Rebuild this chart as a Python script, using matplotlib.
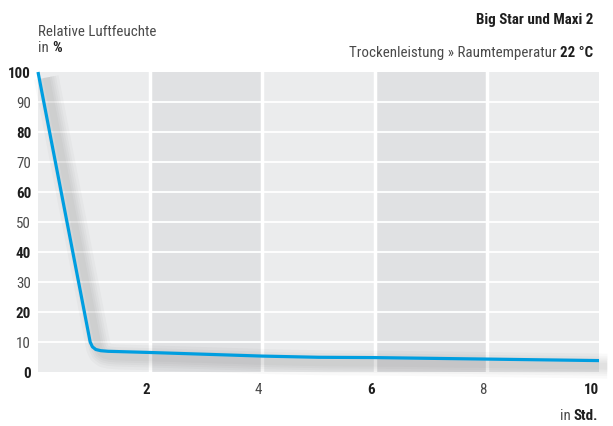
import matplotlib
matplotlib.use("Agg")
import matplotlib.pyplot as plt
import matplotlib.patheffects as pe
from matplotlib import font_manager

# ---------------------------
# data
# ---------------------------
hours = [0, 0.93, 0.97, 1.03, 1.12, 1.25, 2, 3, 4, 5, 6, 8, 10]
humidity = [100, 10, 8.4, 7.5, 7.1, 6.9, 6.5, 5.9, 5.3, 4.9, 4.8, 4.3, 3.8]

x_ticks = [2, 4, 6, 8, 10]
x_bold = [True, False, True, False, True]
y_ticks = [0, 10, 20, 30, 40, 50, 60, 70, 80, 90, 100]
y_bold = [True, False, True, False, True, False, True, False, True, False, True]
bands = [(2, 4), (6, 8)]

title = "Big Star und Maxi 2"
subtitle = "Trockenleistung » Raumtemperatur"
subtitle_bold = "22 °C"
ylabel_1 = "Relative Luftfeuchte"
ylabel_2 = "in"
ylabel_unit = "%"
xlabel = "in"
xlabel_unit = "Std."

# schmale Schrift, falls vorhanden
names = {f.name for f in font_manager.fontManager.ttflist}
family = "DejaVu Sans"
for cand in ["Roboto Condensed", "Open Sans Condensed", "Liberation Sans Narrow",
             "DejaVu Sans Condensed", "Roboto"]:
    if cand in names:
        family = cand
        break
plt.rcParams["font.family"] = family
FS = 10.8
GAP = 2.2  # Abstand zwischen normalem und fettem Textteil (pt)

TXT = "#1e1e1e"
TXT_LIGHT = "#4a4a4a"
BLUE = "#009ee0"

fig = plt.figure(figsize=(6.13, 4.27), dpi=100)
ax = fig.add_axes([38 / 613, 54 / 427, 561 / 613, 300 / 427])
ax.set_xlim(0, 10)
ax.set_ylim(0, 100)
ax.set_facecolor("#ebeced")
for a, b in bands:
    ax.axvspan(a, b, color="#e0e1e3", lw=0, zorder=0)
for y in y_ticks[1:-1]:
    ax.axhline(y, color="white", lw=1.3, zorder=1)
for x in x_ticks[:-1]:
    ax.axvline(x, color="white", lw=2.5, zorder=1)
for s in ax.spines.values():
    s.set_visible(False)
ax.tick_params(length=0)
ax.set_xticks(x_ticks)
ax.set_xticklabels([str(t) for t in x_ticks])
ax.set_yticks(y_ticks)
ax.set_yticklabels([str(t) for t in y_ticks])
for lab, b in zip(ax.get_xticklabels(), x_bold):
    lab.set_fontweight("bold" if b else "normal")
    lab.set_fontsize(FS)
    lab.set_color(TXT if b else TXT_LIGHT)
    lab.set_horizontalalignment("right")
for lab, b in zip(ax.get_yticklabels(), y_bold):
    lab.set_fontweight("bold" if b else "normal")
    lab.set_fontsize(FS)
    lab.set_color(TXT if b else TXT_LIGHT)
ax.tick_params(axis="x", pad=7)
ax.tick_params(axis="y", pad=5)

# Schatten + Linie
shadow = [pe.SimpleLineShadow(offset=(6, -4), shadow_color="black", alpha=0.025, linewidth=w)
          for w in (18, 14, 11, 8, 5)]
ax.plot(hours, humidity, color=BLUE, lw=2.3, solid_capstyle="butt", zorder=3,
        clip_on=False, path_effects=shadow + [pe.Normal()])

# Texte
fig.text(593 / 613, 1 - 20 / 427, title, ha="right", va="center",
         fontsize=FS, fontweight="bold", color=TXT)
tb = fig.text(593 / 613, 1 - 53 / 427, subtitle_bold, ha="right", va="center",
              fontsize=FS, fontweight="bold", color=TXT)
ax.annotate(subtitle, xy=(0, 0), xycoords=tb, xytext=(-GAP, 0), textcoords="offset points",
            ha="right", va="bottom", fontsize=FS, color=TXT_LIGHT)

fig.text(38 / 613, 1 - 32 / 427, ylabel_1, ha="left", va="center", fontsize=FS, color=TXT_LIGHT)
t2 = fig.text(38 / 613, 1 - 48 / 427, ylabel_2, ha="left", va="center", fontsize=FS, color=TXT_LIGHT)
ax.annotate(ylabel_unit, xy=(1, 0), xycoords=t2, xytext=(GAP, 0), textcoords="offset points",
            ha="left", va="bottom", fontsize=FS, fontweight="bold", color=TXT)

tx = fig.text(598 / 613, 1 - 416 / 427, xlabel_unit, ha="right", va="center",
              fontsize=FS, fontweight="bold", color=TXT)
ax.annotate(xlabel, xy=(0, 0), xycoords=tx, xytext=(-GAP, 0), textcoords="offset points",
            ha="right", va="bottom", fontsize=FS, color=TXT_LIGHT)

fig.savefig("out.png", dpi=100)
